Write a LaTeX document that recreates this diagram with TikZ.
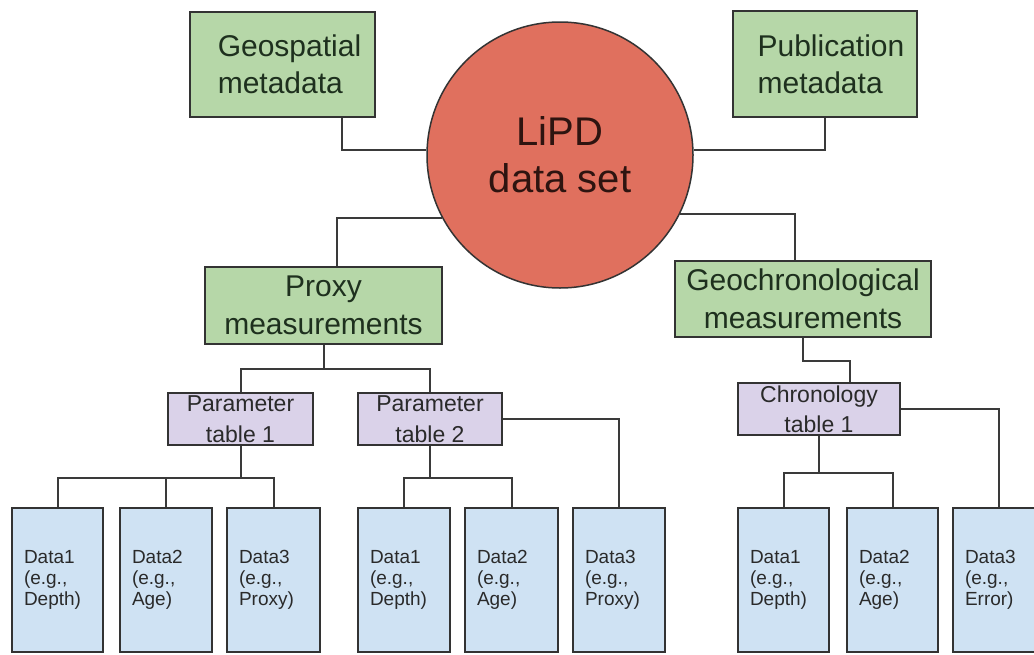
\documentclass[tikz,border=0pt]{standalone}
\usepackage{fontspec}
\setmainfont{Liberation Sans}
\definecolor{greenf}{HTML}{B6D7A8}
\definecolor{circf}{HTML}{E0705E}
\definecolor{purf}{HTML}{DAD2E9}
\definecolor{bluef}{HTML}{CFE2F3}
\definecolor{linec}{HTML}{3A3A3A}
\definecolor{boxline}{HTML}{333333}
\definecolor{greent}{HTML}{1E301E}
\definecolor{darkt}{HTML}{2A2A2A}
\definecolor{circt}{HTML}{2E1410}
\begin{document}
\begin{tikzpicture}[x=1pt,y=-1pt,
  conn/.style={draw=linec, line width=2pt},
  basebox/.style={draw=boxline, line width=1.8pt, inner sep=0pt, align=center},
  greenbox/.style={basebox, fill=greenf, text=greent, font=\fontsize{30}{37}\selectfont},
  topbox/.style={greenbox, align=left},
  midbox/.style={greenbox, font=\fontsize{30}{38}\selectfont},
  tablebox/.style={basebox, fill=purf, text=darkt, font=\fontsize{23}{31}\selectfont, minimum height=52},
  databox/.style={basebox, fill=bluef, text=darkt, align=left, inner xsep=12pt,
    minimum height=144, font=\fontsize{19}{21}\selectfont},
  hub/.style={circle, draw=boxline, line width=1.5pt, fill=circf, text=circt,
    minimum size=266, inner sep=0pt, align=center, font=\fontsize{40}{47}\selectfont}
]
\useasboundingbox (0,0) rectangle (1034,654);

% top level
\node[topbox, minimum width=185, minimum height=105] (geo) at (282.5,64.5)
  {\hspace*{14pt}Geospatial\\\hspace*{14pt}metadata};
\node[topbox, minimum width=184, minimum height=106] (pub) at (825,64)
  {\hspace*{12pt}Publication\\\hspace*{12pt}metadata};
\node[hub] (lipd) at (560,155) {LiPD\\data set};

% measurements
\node[midbox, minimum width=237, minimum height=77] (proxy) at (323.5,305.5)
  {Proxy\\measurements};
\node[midbox, minimum width=256, minimum height=76] (geoch) at (803,299)
  {Geochronological\\measurements};

% tables
\node[tablebox, minimum width=145] (pt1) at (240.5,419) {Parameter\\table 1};
\node[tablebox, minimum width=144] (pt2) at (430,419) {Parameter\\table 2};
\node[tablebox, minimum width=162, font=\fontsize{23}{30}\selectfont] (ct1) at (819,409) {Chronology\\table 1};

% data boxes
\node[databox, text width=67] (a1) at (57.5,580) {Data1\\(e.g.,\\Depth)};
\node[databox, text width=68] (a2) at (166,580) {Data2\\(e.g.,\\Age)};
\node[databox, text width=69] (a3) at (273.5,580) {Data3\\(e.g.,\\Proxy)};
\node[databox, text width=68] (b1) at (404,580) {Data1\\(e.g.,\\Depth)};
\node[databox, text width=69] (b2) at (511.5,580) {Data2\\(e.g.,\\Age)};
\node[databox, text width=68] (b3) at (619,580) {Data3\\(e.g.,\\Proxy)};
\node[databox, text width=67] (c1) at (783.5,580) {Data1\\(e.g.,\\Depth)};
\node[databox, text width=67] (c2) at (892.5,580) {Data2\\(e.g.,\\Age)};
\node[databox, text width=68] (c3) at (999,580) {Data3\\(e.g.,\\Error)};

% connectors
\draw[conn] ([xshift=59.5pt]geo.south) |- (lipd.178);
\draw[conn] (pub.south) |- (lipd.2);
\draw[conn] ([xshift=13.5pt]proxy.north) |- (lipd.208);
\draw[conn] ([xshift=-8pt]geoch.north) |- (lipd.-26);

\draw[conn] (proxy.south) -- ++(0,24) -| (pt1.north);
\draw[conn] (proxy.south) -- ++(0,24) -| (pt2.north);
\draw[conn] (geoch.south) -- ++(0,23) -| ([xshift=31pt]ct1.north);

\draw[conn] (pt1.south) -- ++(0,32) -| (a1.north);
\draw[conn] (pt1.south) -- ++(0,32) -| (a2.north);
\draw[conn] (pt1.south) -- ++(0,32) -| (a3.north);

\draw[conn] (pt2.south) -- ++(0,32) -| (b1.north);
\draw[conn] (pt2.south) -- ++(0,32) -| (b2.north);
\draw[conn] (pt2.east) -| (b3.north);

\draw[conn] (ct1.south) -- ++(0,37) -| (c1.north);
\draw[conn] (ct1.south) -- ++(0,37) -| (c2.north);
\draw[conn] (ct1.east) -| (c3.north);
\end{tikzpicture}
\end{document}
